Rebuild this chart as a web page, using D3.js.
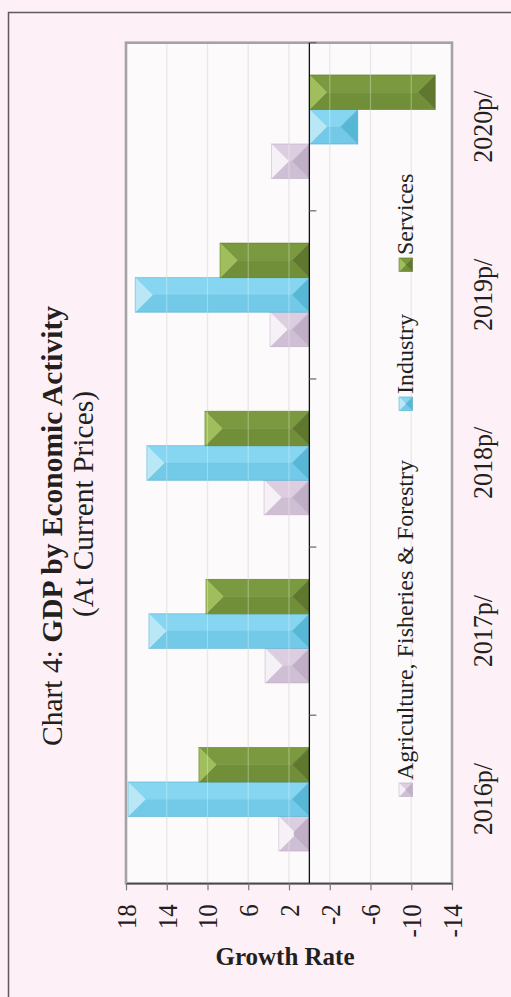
<!DOCTYPE html>
<html>
<head>
<meta charset="utf-8">
<script src="https://cdn.jsdelivr.net/npm/d3@7"></script>
<style>
  html, body { margin: 0; padding: 0; background: #fdf0f6; }
  svg { display: block; }
  text { font-family: "Liberation Serif", "Times New Roman", serif; fill: #231f20; }
</style>
</head>
<body>
<svg id="chart" width="511" height="997"></svg>
<script>
// ---- data ----
const categories = ['2016p/', '2017p/', '2018p/', '2019p/', '2020p/'];
const seriesNames = ['Agriculture, Fisheries & Forestry', 'Industry', 'Services'];
const agriculture = [3.0, 4.35, 4.45, 3.86, 3.73];
const industry = [17.8, 15.75, 15.95, 17.1, -4.75];
const services = [10.84, 10.15, 10.25, 8.77, -12.35];
const valueTicks = [18, 14, 10, 6, 2, -2, -6, -10, -14];
const titleMain = 'Chart 4: ';
const titleBold = 'GDP by Economic Activity';
const subtitle = '(At Current Prices)';
const axisTitle = 'Growth Rate';

// ---- styles ----
const palette = {
  'Agriculture, Fisheries & Forestry': { top: '#dccde0', bottom: '#cfbfd4', left: '#f6f0f7', right: '#bfaec5', stroke: '#b9a8bf' },
  'Industry': { top: '#86d5f1', bottom: '#72c9e8', left: '#b9e7f6', right: '#58b6d6', stroke: '#4fa9c9' },
  'Services': { top: '#7b9a3f', bottom: '#718f39', left: '#a0be5c', right: '#5f782e', stroke: '#5b7530' }
};

const svg = d3.select('#chart');
const plot = { left: 126, right: 452, top: 42.7, bottom: 883.3 };

// outer border
svg.append('rect').attr('x', 8.5).attr('y', 12.5).attr('width', 600).attr('height', 1100)
  .attr('fill', '#fdf0f6').attr('stroke', '#5e5a5c').attr('stroke-width', 1.5);

// scales (chart is rotated: values run horizontally, categories vertically)
const x = d3.scaleLinear().domain([18, -14]).range([plot.left, plot.right]);
const y0 = d3.scaleBand().domain(categories.slice().reverse()).range([plot.top, plot.bottom]).padding(0);
const y1 = d3.scaleBand().domain(['Services', 'Industry', 'Agriculture, Fisheries & Forestry'])
  .range([0, y0.bandwidth()]).paddingInner(0).paddingOuter(0.936);

// plot background
svg.append('rect').attr('x', plot.left).attr('y', plot.top)
  .attr('width', plot.right - plot.left).attr('height', plot.bottom - plot.top)
  .attr('fill', '#fdfafc');

// gridlines (under bars)
svg.append('g').selectAll('line').data(valueTicks.slice(1, -1)).join('line')
  .attr('x1', d => x(d)).attr('x2', d => x(d))
  .attr('y1', plot.top).attr('y2', plot.bottom)
  .attr('stroke', '#dedede').attr('stroke-width', 1.2);

// bevel bar drawing
function bevelBar(g, bx, by, w, h, c) {
  const d = Math.min(w, h) / 2;
  const polys = [
    { pts: [[bx, by], [bx + w, by], [bx + w - d, by + d], [bx + d, by + d]], fill: c.top },
    { pts: [[bx, by + h], [bx + w, by + h], [bx + w - d, by + h - d], [bx + d, by + h - d]], fill: c.bottom },
    { pts: [[bx, by], [bx + d, by + d], [bx + d, by + h - d], [bx, by + h]], fill: c.left },
    { pts: [[bx + w, by], [bx + w - d, by + d], [bx + w - d, by + h - d], [bx + w, by + h]], fill: c.right }
  ];
  polys.forEach(p => {
    g.append('polygon').attr('points', p.pts.map(q => q.join(',')).join(' '))
      .attr('fill', p.fill).attr('stroke', p.fill).attr('stroke-width', 0.4);
  });
  g.append('rect').attr('x', bx).attr('y', by).attr('width', w).attr('height', h)
    .attr('fill', 'none').attr('stroke', c.stroke).attr('stroke-width', 0.6).attr('stroke-opacity', 0.7);
}

const seriesData = {
  'Agriculture, Fisheries & Forestry': agriculture,
  'Industry': industry,
  'Services': services
};

const barsG = svg.append('g');
categories.forEach((cat, i) => {
  seriesNames.forEach(s => {
    const v = seriesData[s][i];
    const bx = Math.min(x(v), x(0));
    const w = Math.abs(x(v) - x(0));
    const by = y0(cat) + y1(s);
    bevelBar(barsG.append('g'), bx, by, w, y1.bandwidth(), palette[s]);
  });
});

// gridlines faintly over bars
svg.append('g').selectAll('line').data(valueTicks.slice(1, -1)).join('line')
  .attr('x1', d => x(d)).attr('x2', d => x(d))
  .attr('y1', plot.top).attr('y2', plot.bottom)
  .attr('stroke', '#ffffff').attr('stroke-opacity', 0.3).attr('stroke-width', 1.2);

// plot border
svg.append('rect').attr('x', plot.left).attr('y', plot.top)
  .attr('width', plot.right - plot.left).attr('height', plot.bottom - plot.top)
  .attr('fill', 'none').attr('stroke', '#a3a3a3').attr('stroke-width', 2.6);

// zero (category) axis line
svg.append('line').attr('x1', x(0)).attr('x2', x(0)).attr('y1', plot.top).attr('y2', plot.bottom)
  .attr('stroke', '#111').attr('stroke-width', 1.3);

// category boundary ticks
const boundaries = categories.slice().reverse().map(c => y0(c));
svg.append('g').selectAll('line').data(boundaries).join('line')
  .attr('x1', x(0)).attr('x2', x(0) + 7).attr('y1', d => d).attr('y2', d => d)
  .attr('stroke', '#666').attr('stroke-width', 1.2);

// category labels (rotated)
svg.append('g').selectAll('text').data(categories).join('text')
  .attr('transform', d => `translate(492,${y0(d) + y0.bandwidth() / 2}) rotate(-90) scale(1,1.08)`)
  .attr('text-anchor', 'middle')
  .attr('font-size', 26)
  .text(d => d);

// value axis (bottom)
const xAxis = d3.axisBottom(x).tickValues(valueTicks).tickSize(7).tickSizeOuter(0).tickFormat(d => String(d));
const axG = svg.append('g').attr('transform', `translate(0,${plot.bottom})`).call(xAxis);
axG.select('.domain').attr('stroke', '#4a4a4a').attr('stroke-width', 1.6);
axG.selectAll('.tick line').attr('stroke', '#777').attr('stroke-width', 1.2);
axG.selectAll('.tick text')
  .attr('transform', 'rotate(-90) scale(1,1.08)')
  .attr('x', -21).attr('y', 0).attr('dy', '0.35em')
  .attr('text-anchor', 'end')
  .attr('font-size', 25)
  .attr('font-family', '"Liberation Serif", "Times New Roman", serif')
  .attr('fill', '#231f20');

// axis title
svg.append('text').attr('x', 285).attr('y', 965).attr('text-anchor', 'middle')
  .attr('font-size', 25).attr('font-weight', 'bold').text(axisTitle);

// title (rotated)
const t1 = svg.append('text').attr('transform', 'translate(62,526) rotate(-90)')
  .attr('text-anchor', 'middle').attr('font-size', 29.5);
t1.append('tspan').text(titleMain);
t1.append('tspan').attr('font-weight', 'bold').text(titleBold);
svg.append('text').attr('transform', 'translate(93,504) rotate(-90)')
  .attr('text-anchor', 'middle').attr('font-size', 29.5).text(subtitle);

// legend (rotated)
const legendItems = [
  { name: 'Agriculture, Fisheries & Forestry', pos: 783 },
  { name: 'Industry', pos: 397 },
  { name: 'Services', pos: 258 }
];
const lg = svg.append('g');
legendItems.forEach(it => {
  bevelBar(lg.append('g'), 399, it.pos, 13.5, 13.5, palette[it.name]);
  lg.append('text').attr('transform', `translate(413,${it.pos - 3}) rotate(-90)`)
    .attr('text-anchor', 'start').attr('font-size', 24).text(it.name);
});
</script>
</body>
</html>
